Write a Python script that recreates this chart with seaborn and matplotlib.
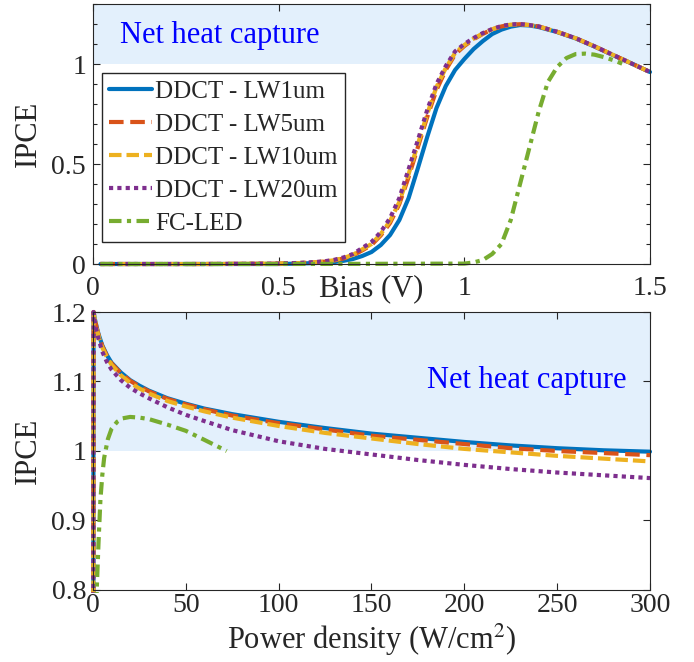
"""
IPCE of DDCT devices (different LW) and FC-LED vs bias and vs power density
"""

# Load libraries
import matplotlib
matplotlib.use("Agg")
import matplotlib.pyplot as plt
from matplotlib.ticker import MultipleLocator, FormatStrFormatter
from matplotlib.transforms import Bbox, TransformedBbox
import numpy as np
import pandas as pd
import seaborn as sns

# ---- data ----
labels = ['DDCT - LW1um', 'DDCT - LW5um', 'DDCT - LW10um', 'DDCT - LW20um', 'FC-LED']

# top panel: IPCE vs bias (V)
bias = [0.02, 0.1, 0.2, 0.3, 0.4, 0.5, 0.55, 0.6, 0.625, 0.65, 0.675, 0.7, 0.725, 0.75, 0.775,
        0.8, 0.825, 0.85, 0.875, 0.9, 0.925, 0.95, 0.975, 1.0, 1.025, 1.05, 1.075, 1.1, 1.125,
        1.15, 1.175, 1.2, 1.25, 1.3, 1.35, 1.4, 1.45, 1.5]
bias_lw1 = [0, 0, 0, 0, 0, 0.0, 0.002, 0.005, 0.007, 0.01, 0.016, 0.025, 0.04, 0.06, 0.095,
            0.145, 0.22, 0.33, 0.48, 0.635, 0.78, 0.89, 0.97, 1.025, 1.075, 1.115, 1.15, 1.172, 1.187,
            1.195, 1.193, 1.185, 1.16, 1.128, 1.088, 1.045, 1.003, 0.96]
bias_lw5 = [0, 0, 0, 0, 0.001, 0.002, 0.004, 0.008, 0.012, 0.018, 0.028, 0.043, 0.068, 0.095, 0.143,
            0.205, 0.3, 0.435, 0.585, 0.735, 0.87, 0.97, 1.048, 1.09, 1.124, 1.151, 1.173, 1.188, 1.197,
            1.199, 1.195, 1.188, 1.161, 1.129, 1.089, 1.046, 1.003, 0.96]
bias_lw10 = [0, 0, 0, 0, 0.001, 0.002, 0.004, 0.009, 0.013, 0.019, 0.03, 0.046, 0.073, 0.1, 0.15,
             0.215, 0.31, 0.45, 0.6, 0.75, 0.885, 0.98, 1.055, 1.095, 1.127, 1.153, 1.174, 1.189, 1.197,
             1.199, 1.195, 1.188, 1.161, 1.129, 1.089, 1.046, 1.003, 0.96]
bias_lw20 = [0, 0, 0, 0, 0.001, 0.002, 0.005, 0.01, 0.014, 0.021, 0.033, 0.05, 0.08, 0.11, 0.16,
             0.23, 0.33, 0.475, 0.62, 0.77, 0.9, 0.99, 1.063, 1.1, 1.13, 1.155, 1.175, 1.19, 1.198,
             1.2, 1.195, 1.188, 1.161, 1.129, 1.089, 1.046, 1.003, 0.96]
bias_led = [0.02, 0.5, 1.0, 1.025, 1.05, 1.075, 1.1, 1.125, 1.15, 1.175, 1.2, 1.225, 1.25, 1.275,
            1.3, 1.325, 1.35, 1.375, 1.4, 1.425]
bias_led_ipce = [0, 0, 0.002, 0.008, 0.02, 0.05, 0.1, 0.22, 0.4, 0.58, 0.76, 0.91, 0.985, 1.03,
                 1.05, 1.052, 1.047, 1.035, 1.02, 1.002]

# bottom panel: IPCE vs power density (W/cm2)
power = [0, 0.3, 1, 2, 3, 5, 7.5, 10, 15, 20, 25, 30, 40, 50, 60, 75, 100, 125, 150, 175, 200,
         225, 250, 275, 300]
pow_lw1 = [0.0, 1.2, 1.19, 1.178, 1.168, 1.152, 1.138, 1.127, 1.113, 1.102, 1.094, 1.087, 1.076,
           1.068, 1.061, 1.053, 1.042, 1.033, 1.025, 1.019, 1.013, 1.008, 1.004, 1.001, 0.999]
pow_lw5 = [0.0, 1.2, 1.19, 1.177, 1.167, 1.151, 1.137, 1.126, 1.112, 1.101, 1.093, 1.086, 1.075,
           1.067, 1.06, 1.051, 1.04, 1.031, 1.022, 1.016, 1.01, 1.004, 1.0, 0.997, 0.994]
pow_lw10 = [0.0, 1.2, 1.189, 1.176, 1.165, 1.149, 1.135, 1.124, 1.109, 1.098, 1.09, 1.083, 1.072,
            1.064, 1.057, 1.048, 1.036, 1.026, 1.018, 1.01, 1.003, 0.998, 0.993, 0.989, 0.985]
pow_lw20 = [0.0, 1.2, 1.186, 1.172, 1.161, 1.143, 1.128, 1.117, 1.102, 1.091, 1.083, 1.076, 1.063,
            1.052, 1.043, 1.03, 1.014, 1.003, 0.995, 0.987, 0.98, 0.974, 0.969, 0.965, 0.961]
power_led = [1.5, 2, 3, 4, 5, 6, 8, 10, 13, 16, 20, 25, 30, 40, 50, 60, 72]
pow_led = [0.7, 0.8, 0.87, 0.93, 0.965, 0.99, 1.017, 1.032, 1.042, 1.047, 1.049, 1.048, 1.046,
           1.038, 1.029, 1.016, 1.0]

# ---- styles (MATLAB default colours) ----
colors = ['#0072BD', '#D95319', '#EDB120', '#7E2F8E', '#77AC30']
styles = ['-', (0, (3.5, 1.6)), (0, (3, 1.2)), (0, (1, 1)), (0, (3, 1.3, 1, 1.3))]
shade = '#E3F0FC'
axcol = '#262626'
lw = 3

sns.set_style("ticks")
plt.rcParams['font.family'] = ['Liberation Serif', 'DejaVu Serif']
plt.rcParams['mathtext.fontset'] = 'stix'

fig = plt.figure(figsize=(6.94, 6.62), dpi=100)
ax1 = fig.add_axes([0.134, 0.6012, 0.8026, 0.3927])
ax2 = fig.add_axes([0.134, 0.1088, 0.8026, 0.4199])

top_x = [bias, bias, bias, bias, bias_led]
top_y = [bias_lw1, bias_lw5, bias_lw10, bias_lw20, bias_led_ipce]
bot_x = [power, power, power, power, power_led]
bot_y = [pow_lw1, pow_lw5, pow_lw10, pow_lw20, pow_led]

# Top panel: IPCE vs bias
ax1.axhspan(1, 1.3, color=shade, lw=0, zorder=0)
for x, y, c, ls, lab in zip(top_x, top_y, colors, styles, labels):
    sns.lineplot(x=x, y=y, ax=ax1, color=c, linestyle=ls, linewidth=lw, label=lab,
                 estimator=None, sort=False)
ax1.set_xlim(0, 1.5)
ax1.set_ylim(0, 1.3)
ax1.set_xticks([0, 0.5, 1, 1.5])
ax1.set_yticks([0, 0.5, 1])
ax1.yaxis.set_minor_locator(MultipleLocator(0.1))
ax1.xaxis.set_major_formatter(FormatStrFormatter('%g'))
ax1.yaxis.set_major_formatter(FormatStrFormatter('%g'))
ax1.set_xlabel('Bias (V)', fontsize=22, color=axcol)
ax1.xaxis.set_label_coords(0.5, -0.04)
ax1.set_ylabel('IPCE', fontsize=22, color=axcol)
ax1.yaxis.set_label_coords(-0.09, 0.5)
ax1.text(0.073, 1.145, 'Net heat capture', color='blue', fontsize=22, va='center')
ax1.legend(loc='upper left', bbox_to_anchor=(0.016, 0.735), borderaxespad=0, fontsize=18,
           frameon=True, fancybox=False, edgecolor=axcol, framealpha=1, handlelength=1.7,
           handletextpad=0.12, labelspacing=0.42, borderpad=0.3)

# Bottom panel: IPCE vs power density
ax2.axhspan(1, 1.2, color=shade, lw=0, zorder=0)
for x, y, c, ls in zip(bot_x, bot_y, colors, styles):
    sns.lineplot(x=x, y=y, ax=ax2, color=c, linestyle=ls, linewidth=lw,
                 estimator=None, sort=False, legend=False)
ax2.set_xlim(0, 300)
ax2.set_ylim(0.8, 1.2)
ax2.set_xticks([0, 50, 100, 150, 200, 250, 300])
ax2.set_yticks([0.8, 0.9, 1, 1.1, 1.2])
ax2.yaxis.set_major_formatter(FormatStrFormatter('%g'))
ax2.set_xlabel('Power density (W/cm$^2$)', fontsize=22, color=axcol, labelpad=3)
ax2.set_ylabel('IPCE', fontsize=22, color=axcol)
ax2.yaxis.set_label_coords(-0.09, 0.5)
ax2.text(180, 1.102, 'Net heat capture', color='blue', fontsize=22, va='center')

for ax, xpad in ((ax1, 8.5), (ax2, 2)):
    ax.tick_params(which='both', direction='in', top=True, right=True, colors=axcol,
                   labelsize=20, width=0.8)
    ax.tick_params(which='major', length=5)
    ax.tick_params(axis='x', pad=xpad)
    ax.tick_params(axis='y', pad=5)
    ax.tick_params(which='minor', length=3)
    for s in ax.spines.values():
        s.set_color(axcol)
        s.set_linewidth(0.8)
    # let the thick lines spill a few pixels over the box edge, like the original
    clip = TransformedBbox(Bbox([[-0.007, -0.012], [1.007, 1.012]]), ax.transAxes)
    for line in ax.lines:
        line.set_clip_path(None)
        line.set_clip_box(clip)

fig.savefig('out.png', dpi=100)
